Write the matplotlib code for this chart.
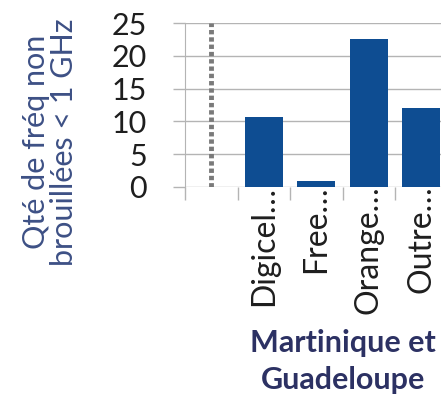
import matplotlib
matplotlib.use('Agg')
import matplotlib.pyplot as plt
import numpy as np

# data
operateurs = ['Digicel…', 'Free…', 'Orange…', 'Outre…']
valeurs = [10.6, 0.9, 22.6, 12.1]
separateur_haut = 25          # dotted column in first slot
yticks = [0, 5, 10, 15, 20, 25]

bar_col = '#0e4d92'
grid_col = '#b4b4b4'
txt_col = '#1e1e1e'
lab_col = '#3d5085'
titre_col = '#2c3163'

plt.rcParams['font.family'] = ['Lato', 'DejaVu Sans']

fig = plt.figure(figsize=(4.41, 4.0), dpi=100)
ax = fig.add_axes([185/441, 1 - 187/400, (447.5 - 185)/441, (187 - 23)/400])

x = np.arange(1, len(operateurs) + 1)
ax.bar(x, valeurs, width=0.72, color=bar_col, zorder=3)
ax.vlines(0, 0, separateur_haut, colors='#7a7a7a', linewidth=3.5,
          linestyles=(0, (0.9, 0.6)), zorder=3)

ax.set_xlim(-0.5, len(operateurs) + 0.5)
ax.set_ylim(0, 25)
ax.set_yticks(yticks)
ax.yaxis.grid(True, color=grid_col, linewidth=1, zorder=0)
ax.set_axisbelow(True)

for s in ['top', 'right', 'bottom']:
    ax.spines[s].set_visible(False)
ax.spines['left'].set_color(grid_col)

ax.tick_params(axis='y', length=8.6, color=grid_col, width=1, pad=19,
               labelsize=22, labelcolor=txt_col)

# category labels, rotated
ax.set_xticks(x)
ax.set_xticklabels(operateurs, rotation=90, fontsize=23, color=txt_col,
                   va='top', ha='center')
ax.tick_params(axis='x', which='major', length=0, pad=-1)
ax.set_xticks(np.arange(-0.5, len(operateurs) + 0.5, 1.0), minor=True)
ax.tick_params(axis='x', which='minor', length=9.5, color=grid_col, width=1)

fig.text(343/441, 1 - 343/400, 'Martinique et', ha='center', va='center',
         fontsize=22, fontweight='bold', color=titre_col)
fig.text(343/441, 1 - 380/400, 'Guadeloupe', ha='center', va='center',
         fontsize=22, fontweight='bold', color=titre_col)

fig.text(50/441, 1 - 142/400, 'Qté de fréq non\nbrouillées < 1 GHz',
         rotation=90, ha='center', va='center', fontsize=22, color=lab_col,
         linespacing=1.0)

fig.savefig('out.png', dpi=100)
